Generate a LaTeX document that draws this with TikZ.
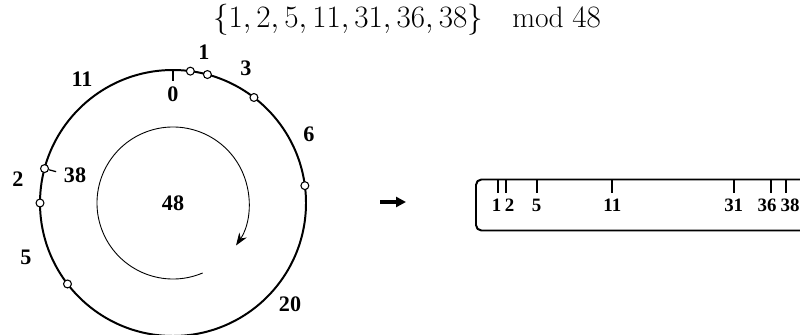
\documentclass[tikz,border=0pt]{standalone}
\usepackage{amsmath}
\usepackage{fontspec}
\newfontfamily\lblfont{Liberation Serif}
\usetikzlibrary{arrows.meta, calc}

\begin{document}
\begin{tikzpicture}[
    x=0.5556pt, y=-0.5556pt,
    ring/.style={line width=1.1pt},
    dot/.style={circle, draw, fill=white, line width=0.6pt, inner sep=0pt,
                minimum size=4.4pt},
    lbl/.style={font=\lblfont\bfseries\fontsize{12.3}{14}\selectfont, inner sep=1pt},
    rlbl/.style={font=\lblfont\bfseries\fontsize{10.5}{12}\selectfont, inner sep=1pt},
    tick/.style={line width=1.1pt},
    bigarr/.style={line width=2.2pt, -{Triangle[length=5.5pt, width=5.5pt]}}
  ]
  \useasboundingbox (0,0) rectangle (800,335);
  \clip (0,0) rectangle (800,335);

  % title
  \node[font=\fontsize{16.4}{20}\selectfont, inner sep=0pt] (title) at (407,20)
    {$\{1,2,5,11,31,36,38\}\quad\mathrm{mod}\;48$};

  % the ring
  \coordinate (c) at (173,203);
  \draw[ring] (c) circle[radius=133];
  \draw[line width=0.5pt, -{Stealth[length=7pt, width=5pt]}]
    ($(c)+(67:76)$) arc[start angle=67, end angle=394, radius=76];
  \node[lbl] (mod) at (c) {48};

  % marks on the ring
  \coordinate (p0) at ($(c)+(-90:133)$);
  \coordinate (t0) at ($(c)+(-90:122)$);
  \draw[tick] (p0) -- (t0);
  \node[lbl] (l0) at (173,94) {0};
  \foreach \t in {1,2,5,11,31,36,38}
    \node[dot] (p\t) at ($(c)+(\t*7.5-90:133)$) {};
  \coordinate (t38) at ($(c)+(38*7.5-90:121)$);
  \draw[tick, line width=0.7pt] (p38) -- (t38);
  \node[lbl] (l38) at (75,175) {38};

  % gaps
  \node[lbl] (g1)  at (204,52)  {1};
  \node[lbl] (g3)  at (246,68)  {3};
  \node[lbl] (g6)  at (309,134) {6};
  \node[lbl] (g20) at (290,304) {20};
  \node[lbl] (g5)  at (26,257)  {5};
  \node[lbl] (g2)  at (18,179)  {2};
  \node[lbl] (g11) at (82,79)   {11};

  % arrow
  \coordinate (a1) at (380,202);
  \coordinate (a2) at (406,202);
  \draw[bigarr] (a1) -- (a2);

  % the ruler
  \draw[line width=1.1pt, rounded corners=3pt] (476,179.5) rectangle (830,230.5);
  \foreach \x/\lx/\n in {498.3/496.5/1, 505.7/509.5/2, 536.7/536.7/5, 612.3/612.3/11,
                         733.7/733.7/31, 771.3/767/36, 786/790/38} {
    \draw[tick] (\x,179.5) -- (\x,193.5);
    \node[rlbl] (r\n) at (\lx,205) {\n};
  }
\end{tikzpicture}
\end{document}
